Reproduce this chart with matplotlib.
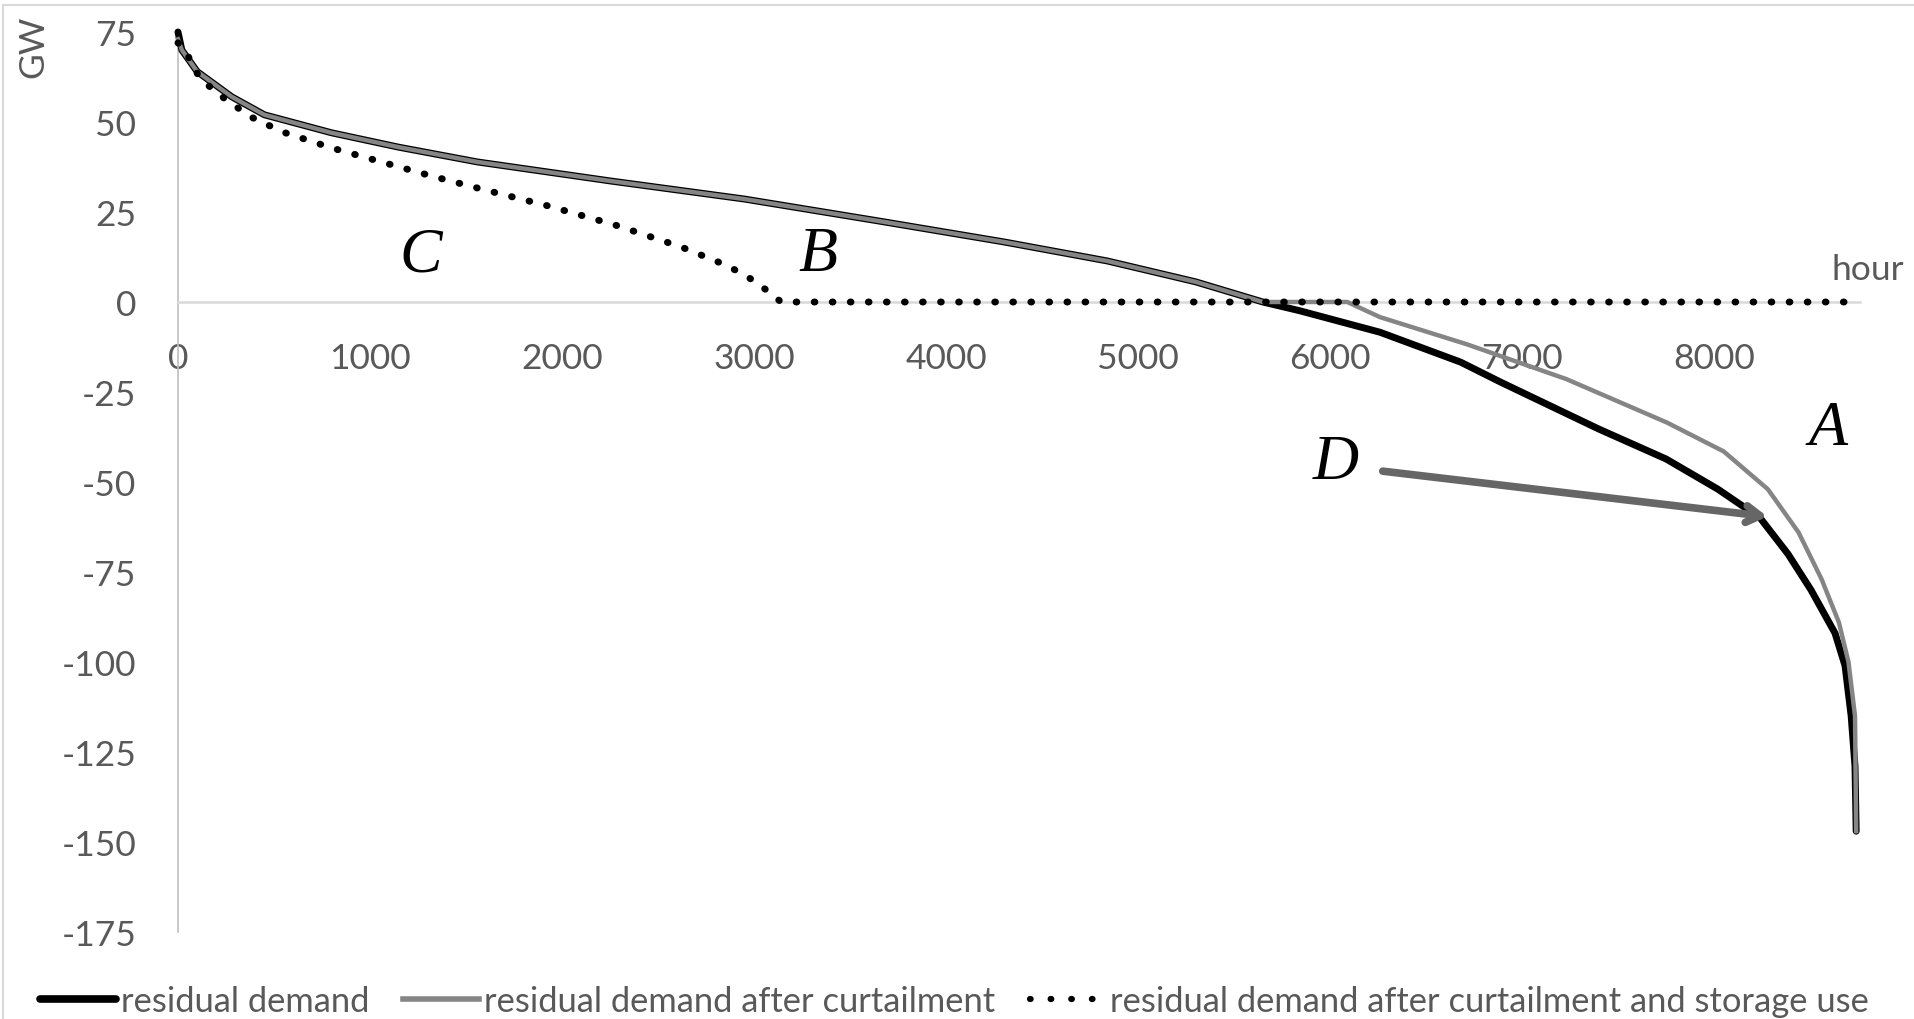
import matplotlib
matplotlib.use('Agg')
import matplotlib.pyplot as plt
from matplotlib.lines import Line2D

# residual demand (GW) sorted by hour
resid_hours = [0, 20, 100, 280, 450, 800, 1150, 1560, 2255, 2950, 3650, 4300, 4840, 5300, 5650,
               5840, 6260, 6680, 6890, 7400, 7750, 8020, 8240, 8385, 8505, 8630, 8682, 8714, 8734, 8740]
resid_vals = [75, 70, 64, 57, 52, 47, 43, 38.9, 33.6, 28.6, 22.5, 16.7, 11.4, 5.6, 0,
              -2.4, -8.4, -16.7, -22.3, -35.3, -43.6, -52, -60, -70, -80, -92, -101, -115, -129, -147]

curt_hours = [0, 20, 100, 280, 450, 800, 1150, 1560, 2255, 2950, 3650, 4300, 4840, 5300, 5650,
              6090, 6260, 6710, 7230, 7755, 8050, 8280, 8440, 8560, 8650, 8700, 8734, 8740]
curt_vals = [73, 70, 64, 57, 52, 47, 43, 38.9, 33.6, 28.6, 22.5, 16.7, 11.4, 5.6, 0,
             0, -4.2, -11.7, -21.4, -33.5, -41.5, -52, -64, -77, -89, -100, -115, -147]

storage_hours = [0, 36, 115, 245, 380, 547, 800, 1060, 1320, 1578, 1927, 2276, 2620, 2865, 3010, 3083, 3141, 8740]
storage_vals = [72, 70, 62, 56.4, 51.4, 47.2, 42.8, 38.9, 35, 31.4, 26.7, 21.4, 15.3, 10, 5.6, 2.5, 0, 0]

labels = ['residual demand', 'residual demand after curtailment',
          'residual demand after curtailment and storage use']
x_ticks = list(range(0, 9000, 1000))
y_ticks = list(range(-175, 100, 25))

txt = '#595959'
plt.rcParams['font.family'] = ['Lato', 'DejaVu Sans']
plt.rcParams['axes.unicode_minus'] = False

fig = plt.figure(figsize=(19.15, 10.2), dpi=100)
ax = fig.add_axes([178 / 1915, 87 / 1020, 1682 / 1915, 900 / 1020])

dots = (0, (0.1, 2.5))
ax.plot(resid_hours, resid_vals, color='black', lw=5.0, solid_capstyle='round', clip_on=False, zorder=3)
ax.plot(curt_hours, curt_vals, color='#858585', lw=3.2, clip_on=False, zorder=4)
ax.plot(storage_hours, storage_vals, color='black', lw=5.0, linestyle=dots,
        dash_capstyle='round', clip_on=False, zorder=5)

ax.set_xlim(0, 8760)
ax.set_ylim(-175, 75)
ax.set_xticks(x_ticks)
ax.set_yticks(y_ticks)
ax.spines['top'].set_visible(False)
ax.spines['right'].set_visible(False)
ax.spines['left'].set_color('#bfbfbf')
ax.spines['left'].set_linewidth(1.2)
ax.spines['bottom'].set_position(('data', 0))
ax.spines['bottom'].set_color('#d9d9d9')
ax.spines['bottom'].set_linewidth(1.8)
ax.tick_params(axis='both', length=0, labelsize=25.5, labelcolor=txt)
ax.tick_params(axis='x', pad=29)
ax.tick_params(axis='y', pad=30)

# letters A-D and arrow
lt = dict(fontsize=46, family='Liberation Serif', style='italic', ha='center', va='center', color='black')
ax.text(1266, 13, 'C', **lt)
ax.text(3333, 13, 'B', **lt)
ax.text(6031, -44.7, 'D', **lt)
ax.text(8594, -35.3, 'A', **lt)
ax.annotate('', xy=(8292, -59.7), xytext=(6260, -46.9),
            arrowprops=dict(arrowstyle='->,head_length=1.0,head_width=0.6', color='#666666', lw=5.5))

fig.text(33 / 1915, 1 - 47 / 1020, 'GW', rotation=90, ha='center', va='center', fontsize=25.5, color=txt)
fig.text(1868 / 1915, 1 - 270 / 1020, 'hour', ha='center', va='center', fontsize=25.5, color=txt)

handles = [Line2D([], [], color='black', lw=5.5, solid_capstyle='round'),
           Line2D([], [], color='#858585', lw=4),
           Line2D([], [], color='black', lw=4.5, linestyle=(0, (0.1, 3.2)), dash_capstyle='round')]
leg = fig.legend(handles, labels, loc='center left', bbox_to_anchor=(40 / 1915, 1 - 1002 / 1020),
                 ncol=3, frameon=False, fontsize=24.8, handlelength=2.2, handletextpad=0.14,
                 columnspacing=1.0, borderpad=0, borderaxespad=0)
for t in leg.get_texts():
    t.set_color(txt)

# chart border
fig.add_artist(Line2D([3 / 1915, 3 / 1915], [0, 1 - 6 / 1020], color='#d9d9d9', lw=1.5))
fig.add_artist(Line2D([3 / 1915, 1], [1 - 6 / 1020, 1 - 6 / 1020], color='#d9d9d9', lw=1.5))

fig.savefig('out.png', dpi=100)
